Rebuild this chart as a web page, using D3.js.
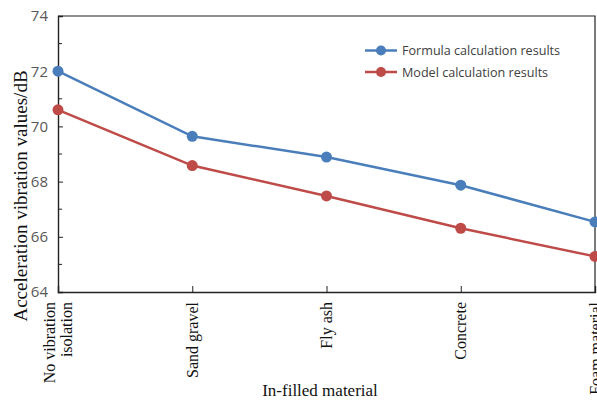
<!DOCTYPE html>
<html><head><meta charset="utf-8">
<script src="https://cdn.jsdelivr.net/npm/d3@7"></script>
<style>body{margin:0;background:#fff}svg{display:block}</style>
</head><body>
<svg id="c" width="597" height="403"></svg>
<script>
const categories = [["No vibration","isolation"],["Sand gravel"],["Fly ash"],["Concrete"],["Foam material"]];
const formulaValues = [72.0, 69.64, 68.89, 67.87, 66.54];
const modelValues = [70.6, 68.58, 67.48, 66.31, 65.29];
const yTicks = [64, 66, 68, 70, 72, 74];
const yMinorTicks = [65, 67, 69, 71, 73];
const seriesNames = ["Formula calculation results", "Model calculation results"];
const colors = ["#4a7ebb", "#be4b48"];

const svg = d3.select("#c");
const L = 58, R = 595, T = 16, B = 292;
const x = d3.scalePoint().domain(d3.range(categories.length)).range([L, R]);
const y = d3.scaleLinear().domain([64, 74]).range([B, T]);

// frame top/right
svg.append("path").attr("d", `M${L},${T}H${R}V${B}`).attr("fill","none").attr("stroke","#222").attr("stroke-width",1.2);

// y axis
const ya = svg.append("g").attr("transform", `translate(${L},0)`)
  .call(d3.axisLeft(y).tickValues(yTicks).tickSize(-5).tickPadding(10).tickFormat(d3.format("d")));
ya.select(".domain").attr("stroke","#222").attr("stroke-width",1.4);
ya.selectAll(".tick line").attr("stroke","#222");
ya.selectAll("text").attr("font-family","'Open Sans', 'Liberation Sans', sans-serif").attr("font-size",15).attr("fill","#595959");
svg.append("g").selectAll("line").data(yMinorTicks).join("line")
  .attr("x1", L).attr("x2", L+4).attr("y1", d=>y(d)).attr("y2", d=>y(d)).attr("stroke","#222");

// x axis
const xa = svg.append("g").attr("transform", `translate(0,${B})`)
  .call(d3.axisBottom(x).tickSize(-6).tickFormat(""));
xa.select(".domain").attr("stroke","#222").attr("stroke-width",1.4);
xa.selectAll(".tick line").attr("stroke","#222");

// x labels rotated
const xl = svg.append("g").selectAll("text").data(categories).join("text")
  .attr("transform", (d,i)=>`translate(${x(i)},${B+10}) rotate(-90)`)
  .attr("text-anchor","end")
  .attr("font-family","'Liberation Serif', 'Times New Roman', serif")
  .attr("font-size",16).attr("fill","#111");
xl.each(function(d){
  const t = d3.select(this);
  const n = d.length;
  d.forEach((s,k)=>{
    t.append("tspan").attr("x",0).attr("y", (k - (n-1)/2)*17 + 5.5).text(s);
  });
});

// axis titles
svg.append("text").attr("x", 320).attr("y", 396).attr("text-anchor","middle")
  .attr("font-family","'Liberation Serif', 'Times New Roman', serif").attr("font-size",17).attr("fill","#111")
  .text("In-filled material");
svg.append("text").attr("transform", `translate(27,196) rotate(-90)`).attr("text-anchor","middle")
  .attr("font-family","'Liberation Serif', 'Times New Roman', serif").attr("font-size",19).attr("fill","#111")
  .text("Acceleration vibration values/dB");

// series
const line = d3.line().x((d,i)=>x(i)).y(d=>y(d));
[formulaValues, modelValues].forEach((vals, s) => {
  svg.append("path").datum(vals).attr("d", line).attr("fill","none").attr("stroke", colors[s]).attr("stroke-width",2.5);
  svg.append("g").selectAll("circle").data(vals).join("circle")
    .attr("cx",(d,i)=>x(i)).attr("cy",d=>y(d)).attr("r",5.5).attr("fill",colors[s]);
});

// legend
const lg = svg.append("g");
seriesNames.forEach((nm, s) => {
  const yy = 50.5 + s*21.5;
  lg.append("line").attr("x1",365).attr("x2",397).attr("y1",yy).attr("y2",yy).attr("stroke",colors[s]).attr("stroke-width",2.5);
  lg.append("circle").attr("cx",381).attr("cy",yy).attr("r",5).attr("fill",colors[s]);
  lg.append("text").attr("x",402).attr("y",yy+4.5).attr("font-family","'Open Sans', 'Liberation Sans', sans-serif")
    .attr("font-size",12.6).attr("fill","#404040").text(nm);
});
</script>
</body></html>
